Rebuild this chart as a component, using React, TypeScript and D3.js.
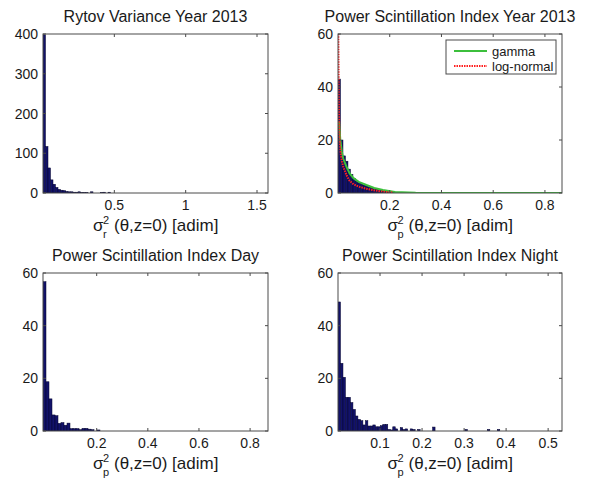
import React from 'react';
import * as d3 from 'd3';

// ---------- data ----------
const rytovXDomain = [0, 1.577];
const rytovCounts = [398, 117, 63, 33, 22, 14, 9, 7, 6, 4, 3, 3, 2, 2, 3, 1, 1, 1, 0, 3, 0, 0, 0, 1, 2, 0, 2, 0,
  0, 0, 0, 0, 0, 0, 0, 0, 0, 0, 0, 0, 0, 0, 0, 0, 0, 0, 0, 0, 0, 0, 0, 0, 0, 0, 0, 0, 0, 0, 0, 0,
  0, 0, 0, 0, 0, 0, 0, 0, 0, 0, 0, 0, 0, 0, 0, 0, 0, 0, 0, 0, 0, 0, 0, 0, 0, 0, 0, 0, 0, 0];
const rytovXTicks = [0.5, 1, 1.5];
const rytovXTickLabels = ['0.5', '1', '1.5'];
const rytovYTicks = [0, 100, 200, 300, 400];

const psiXDomain = [0, 0.866];
const psiCounts = [43, 20, 14, 12, 9, 7, 5.5, 4.5, 4, 3.5, 3, 2.7, 2.3, 2, 1.7, 1.5, 1.2, 1.0, 0.8, 0.7, 0.6, 0.5,
  0.4, 0.3, 0.3, 0.2, 0.2, 0.1, 0.1, 0.1, 0, 0, 0, 0, 0, 0, 0, 0, 0, 0, 0, 0, 0, 0, 0, 0, 0, 0, 0, 0,
  0, 0, 0, 0, 0, 0, 0, 0, 0, 0, 0, 0, 0, 0, 0, 0, 0, 0, 0, 0, 0, 0, 0, 0, 0, 0, 0, 0, 0, 0, 0, 0, 0, 0,
  0, 0, 0, 0, 0, 0];
const gammaX = [0.004, 0.006, 0.009, 0.015, 0.02, 0.0325, 0.045, 0.06, 0.08, 0.11, 0.14, 0.174, 0.22, 0.3, 0.4, 0.6, 0.866];
const gammaY = [27, 24, 20, 15.5, 13, 10, 7.4, 5.6, 4.2, 3.0, 1.9, 1.1, 0.4, 0.1, 0.02, 0, 0];
const lognX = [0.0012, 0.002, 0.003, 0.004, 0.006, 0.01, 0.015, 0.02, 0.026, 0.035, 0.045, 0.06, 0.08, 0.11, 0.14, 0.174, 0.21];
const lognY = [62, 50, 38, 30, 21, 15, 12, 10, 8.5, 6.3, 4.6, 3.3, 2.4, 1.6, 1.0, 0.5, 0.2];
const psiXTicks = [0.2, 0.4, 0.6, 0.8];
const psiXTickLabels = ['0.2', '0.4', '0.6', '0.8'];
const psiYTicks = [0, 20, 40, 60];
const legendLabels = ['gamma', 'log-normal'];

const dayXDomain = [-0.01, 0.87];
const dayCounts = [56.7, 18.7, 12.2, 6.1, 5.8, 2.9, 3.2, 2.2, 3.0, 0.9, 0.9, 0.9, 0.5, 1.0, 1.0, 0.7, 0.5, 0, 0.4, 0,
  0, 0, 0, 0, 0, 0, 0, 0, 0, 0, 0, 0, 0, 0, 0, 0, 0, 0, 0, 0, 0, 0, 0, 0, 0, 0, 0, 0, 0, 0,
  0, 0, 0, 0, 0, 0, 0, 0, 0, 0, 0, 0, 0, 0, 0, 0, 0, 0, 0, 0, 0, 0, 0, 0, 0];
const dayXTicks = [0.2, 0.4, 0.6, 0.8];
const dayXTickLabels = ['0.2', '0.4', '0.6', '0.8'];
const dayYTicks = [0, 20, 40, 60];

const nightXDomain = [0, 0.533];
const nightCounts = [49, 25.7, 20.4, 12.8, 12.8, 10.8, 8.2, 5.7, 4.4, 3.9, 2.3, 3.9, 1.9, 1.9, 2.3, 1.6, 1.6, 2.0, 2.5, 2.5,
  0.6, 0.4, 1.6, 0.8, 0, 1.3, 0.6, 0.8, 0, 0.8, 0.6, 0, 0.6, 0, 0, 0, 0, 0, 1.5, 0,
  0, 0, 0, 0, 0, 0, 0, 0, 0, 0, 0, 0.6, 0, 0, 0, 0, 0, 0, 0, 0, 0.6, 0, 0, 0, 0.6, 0, 0, 0, 0, 0,
  0, 0, 0, 0, 0, 0, 0, 0, 0, 0, 0, 0, 0, 0, 0, 0, 0, 0, 0, 0];
const nightXTicks = [0.1, 0.2, 0.3, 0.4, 0.5];
const nightXTickLabels = ['0.1', '0.2', '0.3', '0.4', '0.5'];
const nightYTicks = [0, 20, 40, 60];

// ---------- styling ----------
const FONT = '"Liberation Sans", Arial, Helvetica, sans-serif';
const BAR_FILL = '#12126a';
const BAR_STROKE = '#05052e';
const AXIS = '#4a4a4a';
const TEXT = '#1a1a1a';

type PanelProps = {
  id: string;
  left: number; top: number; width: number; height: number;
  title: string;
  xDomain: number[]; counts: number[];
  xTicks: number[]; xTickLabels: string[];
  yMax: number; yTicks: number[];
  sub: string;
  curves?: boolean;
};

function Panel(p: PanelProps) {
  const x = d3.scaleLinear().domain(p.xDomain).range([p.left, p.left + p.width]);
  const y = d3.scaleLinear().domain([0, p.yMax]).range([p.top + p.height, p.top]);
  const bw = (p.xDomain[1] - p.xDomain[0]) / p.counts.length;
  const bottom = p.top + p.height;
  const right = p.left + p.width;
  const tl = 3;
  const cx = p.left + p.width / 2;
  const line = d3.line<[number, number]>().x(d => x(d[0])).y(d => y(d[1]));
  const gammaPts: [number, number][] = gammaX.map((v, i) => [v, gammaY[i]]);
  const lognPts: [number, number][] = lognX.map((v, i) => [v, lognY[i]]);
  // x label layout: sigma + stacked super/subscript + rest
  const lblY = bottom + 38;
  const sigmaW = 10;
  const scriptW = 7;
  const gap = 4;
  const restW = 104;
  const total = sigmaW + scriptW + gap + restW;
  const lx0 = cx - total / 2;
  return (
    <g>
      <defs>
        <clipPath id={`clip-${p.id}`}>
          <rect x={p.left} y={p.top} width={p.width} height={p.height} />
        </clipPath>
      </defs>
      <rect x={p.left} y={p.top} width={p.width} height={p.height} fill="#fff" />
      <g clipPath={`url(#clip-${p.id})`}>
        {p.counts.map((c, i) => {
          if (c <= 0) return null;
          const x0 = x(p.xDomain[0] + i * bw);
          const x1 = x(p.xDomain[0] + (i + 1) * bw);
          return (
            <rect key={i} x={x0} y={y(c)} width={x1 - x0} height={bottom - y(c)}
              fill={BAR_FILL} stroke={BAR_STROKE} strokeWidth={0.5} />
          );
        })}
        {p.curves && (
          <>
            <path d={line(gammaPts) || ''} fill="none" stroke="#3cbf3c" strokeWidth={2} />
            <path d={line(lognPts) || ''} fill="none" stroke="#ff2020" strokeWidth={2} strokeDasharray="1.5,1" />
          </>
        )}
      </g>
      {/* box */}
      <rect x={p.left} y={p.top} width={p.width} height={p.height} fill="none" stroke={AXIS} strokeWidth={1} />
      {/* x ticks */}
      {p.xTicks.map((t, i) => (
        <g key={'xt' + i}>
          <line x1={x(t)} x2={x(t)} y1={bottom} y2={bottom - tl} stroke={AXIS} />
          <line x1={x(t)} x2={x(t)} y1={p.top} y2={p.top + tl} stroke={AXIS} />
          <text x={x(t)} y={bottom + 17} textAnchor="middle" fontSize={14} fontFamily={FONT} fill={TEXT}>{p.xTickLabels[i]}</text>
        </g>
      ))}
      {/* y ticks */}
      {p.yTicks.map((t, i) => (
        <g key={'yt' + i}>
          <line x1={p.left} x2={p.left + tl} y1={y(t)} y2={y(t)} stroke={AXIS} />
          <line x1={right} x2={right - tl} y1={y(t)} y2={y(t)} stroke={AXIS} />
          <text x={p.left - 5} y={y(t) + 5} textAnchor="end" fontSize={14} fontFamily={FONT} fill={TEXT}>{String(t)}</text>
        </g>
      ))}
      {/* title */}
      <text x={cx} y={p.top - 12} textAnchor="middle" fontSize={16} fontFamily={FONT} fill={TEXT}>{p.title}</text>
      {/* x label */}
      <g fontFamily={FONT} fill={TEXT}>
        <text x={lx0} y={lblY} fontSize={17}>σ</text>
        <text x={lx0 + sigmaW} y={lblY - 7} fontSize={11}>2</text>
        <text x={lx0 + sigmaW} y={lblY + 7} fontSize={11}>{p.sub}</text>
        <text x={lx0 + sigmaW + scriptW + gap} y={lblY} fontSize={17}>(θ,z=0) [adim]</text>
      </g>
    </g>
  );
}

export default function App() {
  const lx = 446, ly = 40, lw = 110, lh = 34;
  return (
    <svg width={601} height={485} style={{ position: 'absolute', left: 0, top: 0, background: '#fff' }}>
      <rect x={0} y={0} width={601} height={485} fill="#fff" />
      <Panel id="p1" left={43} top={34} width={225} height={159} title="Rytov Variance Year 2013"
        xDomain={rytovXDomain} counts={rytovCounts} xTicks={rytovXTicks} xTickLabels={rytovXTickLabels}
        yMax={400} yTicks={rytovYTicks} sub="r" />
      <Panel id="p2" left={338} top={34} width={224} height={159} title="Power Scintillation Index Year 2013"
        xDomain={psiXDomain} counts={psiCounts} xTicks={psiXTicks} xTickLabels={psiXTickLabels}
        yMax={60} yTicks={psiYTicks} sub="p" curves />
      <Panel id="p3" left={43} top={273} width={225} height={158} title="Power Scintillation Index Day"
        xDomain={dayXDomain} counts={dayCounts} xTicks={dayXTicks} xTickLabels={dayXTickLabels}
        yMax={60} yTicks={dayYTicks} sub="p" />
      <Panel id="p4" left={338} top={273} width={224} height={158} title="Power Scintillation Index Night"
        xDomain={nightXDomain} counts={nightCounts} xTicks={nightXTicks} xTickLabels={nightXTickLabels}
        yMax={60} yTicks={nightYTicks} sub="p" />
      {/* legend */}
      <g>
        <rect x={lx} y={ly} width={lw} height={lh} fill="#fff" stroke={AXIS} strokeWidth={1} />
        <line x1={lx + 8} x2={lx + 41} y1={ly + 11} y2={ly + 11} stroke="#3cbf3c" strokeWidth={2} />
        <text x={lx + 46} y={ly + 15.5} fontSize={13} fontFamily={FONT} fill={TEXT}>{legendLabels[0]}</text>
        <line x1={lx + 8} x2={lx + 41} y1={ly + 26} y2={ly + 26} stroke="#ff2020" strokeWidth={2} strokeDasharray="1.5,1" />
        <text x={lx + 46} y={ly + 30.5} fontSize={13} fontFamily={FONT} fill={TEXT}>{legendLabels[1]}</text>
      </g>
    </svg>
  );
}
